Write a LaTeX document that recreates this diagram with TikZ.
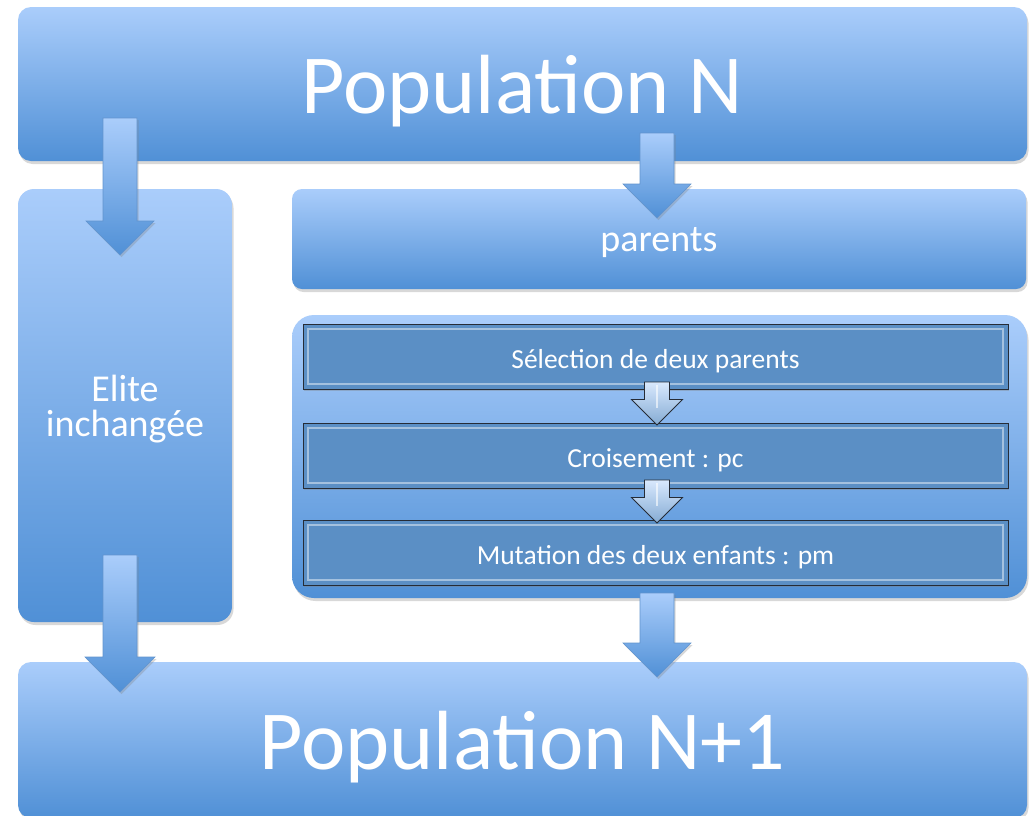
\documentclass[tikz,border=0pt]{standalone}
\usepackage{fontspec}
\setmainfont{Carlito}
\usetikzlibrary{calc,shadows}

\definecolor{boxlight}{RGB}{170,205,251}
\definecolor{boxdark}{RGB}{80,144,214}
\definecolor{stepfill}{RGB}{91,143,197}
\definecolor{stepline}{RGB}{38,44,54}
\definecolor{arrowline}{RGB}{98,148,206}

\newcommand{\blockdown}[5]{%
  \path[#1] let \p1=(#2), \p2=(#3) in
    (\x1-#4,\y1) -- (\x1+#4,\y1) -- (\x1+#4,\y2+#5) -- (\x1+#5,\y2+#5)
    -- (\x2,\y2) -- (\x1-#5,\y2+#5) -- (\x1-#4,\y2+#5) -- cycle;}

\tikzset{
  panel/.style={rectangle, rounded corners=#1, top color=boxlight, bottom color=boxdark,
    text=white, inner sep=0pt, text depth=0pt, align=center,
    drop shadow={opacity=0.3, shadow xshift=1.5pt, shadow yshift=-3pt}},
  panel/.default=12pt,
  stepbox/.style={rectangle, fill=stepfill, draw=stepline, line width=1pt, text=white,
    inner sep=0pt, text height=23pt, text depth=0pt, minimum width=705pt, minimum height=65pt,
    font=\fontsize{27.5}{32}\selectfont,
    drop shadow={opacity=0.35, shadow xshift=1pt, shadow yshift=-2pt},
    path picture={\draw[white, opacity=0.45, line width=1.5pt]
      ([xshift=5pt,yshift=-5pt]path picture bounding box.north west) rectangle
      ([xshift=-5pt,yshift=5pt]path picture bounding box.south east);}},
  bigarrow/.style={top color=boxlight, bottom color=boxdark, draw=arrowline, line width=0.6pt,
    drop shadow={opacity=0.3, shadow xshift=1.5pt, shadow yshift=-2pt}},
  smallarrow/.style={top color=white!55!boxlight, bottom color=stepfill!75!white,
    draw=stepline, line width=0.9pt},
}

\begin{document}
\begin{tikzpicture}[x=1pt, y=-1pt]
    \path[use as bounding box, fill=white] (0,0) rectangle (1031,815);

    \node[panel=13pt, minimum width=1009pt, minimum height=154pt, font=\fontsize{84}{100}\selectfont] (popN) at (522.5,84) {Population N};
    \node[panel=16pt, minimum width=214pt, minimum height=433pt, font=\fontsize{38}{35}\selectfont] (elite) at (125,405.5) {Elite\\inchangée};
    \node[panel=10pt, minimum width=734pt, minimum height=100pt, font=\fontsize{38}{44}\selectfont] (parents) at (659,239) {parents};
    \node[panel=22pt, minimum width=735pt, minimum height=283pt] (ops) at (659.5,456.5) {};
    \node[panel=13pt, minimum width=1009pt, minimum height=156pt, font=\fontsize{84}{100}\selectfont] (popN1) at (522.5,740) {Population N+1};

    \node[stepbox] (select) at (655.5,356.5) {Sélection de deux parents};
    \node[stepbox] (cross) at (655.5,455.5) {Croisement : pc};
    \node[stepbox] (mutate) at (655.5,552.5) {Mutation des deux enfants : pm};

    \coordinate (selOut) at (657,382);
    \coordinate (crossIn) at (657,425);
    \coordinate (crossOut) at (657,480);
    \coordinate (mutIn) at (657,523);
    \blockdown{smallarrow}{selOut}{crossIn}{12.5pt}{25.5pt}
    \blockdown{smallarrow}{crossOut}{mutIn}{12.5pt}{25.5pt}
    \draw[white, opacity=0.6, line width=1.5pt] ($(selOut)+(0,3)$) -- ($(selOut)+(0,26)$);
    \draw[white, opacity=0.6, line width=1.5pt] ($(crossOut)+(0,3)$) -- ($(crossOut)+(0,26)$);

    \coordinate (nToElite) at (120,118);
    \coordinate (eliteIn) at (120,255);
    \coordinate (nToParents) at (657,133);
    \coordinate (parentsIn) at (657,218);
    \coordinate (eliteOut) at (120,555);
    \coordinate (n1FromElite) at (120,692);
    \coordinate (opsOut) at (657,593);
    \coordinate (n1FromOps) at (657,677);
    \blockdown{bigarrow}{nToElite}{eliteIn}{17pt}{34pt}
    \blockdown{bigarrow}{nToParents}{parentsIn}{17pt}{34pt}
    \blockdown{bigarrow}{eliteOut}{n1FromElite}{17pt}{35pt}
    \blockdown{bigarrow}{opsOut}{n1FromOps}{17pt}{34pt}
\end{tikzpicture}
\end{document}
